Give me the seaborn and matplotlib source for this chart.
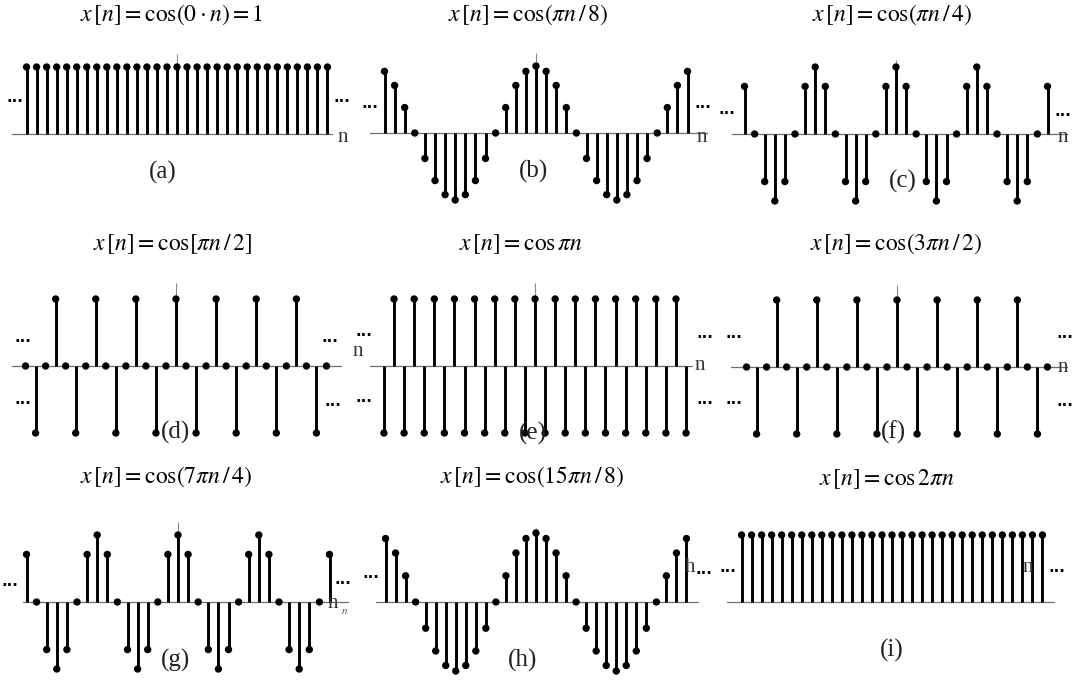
import matplotlib
matplotlib.use("Agg")
import matplotlib.pyplot as plt
import seaborn as sns
import pandas as pd

# ---------------- data ----------------
n_idx = [-15, -14, -13, -12, -11, -10, -9, -8, -7, -6, -5, -4, -3, -2, -1, 0,
         1, 2, 3, 4, 5, 6, 7, 8, 9, 10, 11, 12, 13, 14, 15]

vals_a = [1, 1, 1, 1, 1, 1, 1, 1, 1, 1, 1, 1, 1, 1, 1, 1,
          1, 1, 1, 1, 1, 1, 1, 1, 1, 1, 1, 1, 1, 1, 1]
vals_b = [0.92, 0.71, 0.38, 0, -0.38, -0.71, -0.92, -1, -0.92, -0.71, -0.38, 0, 0.38, 0.71, 0.92, 1,
          0.92, 0.71, 0.38, 0, -0.38, -0.71, -0.92, -1, -0.92, -0.71, -0.38, 0, 0.38, 0.71, 0.92]
vals_c = [0.71, 0, -0.71, -1, -0.71, 0, 0.71, 1, 0.71, 0, -0.71, -1, -0.71, 0, 0.71, 1,
          0.71, 0, -0.71, -1, -0.71, 0, 0.71, 1, 0.71, 0, -0.71, -1, -0.71, 0, 0.71]
vals_d = [0, -1, 0, 1, 0, -1, 0, 1, 0, -1, 0, 1, 0, -1, 0, 1,
          0, -1, 0, 1, 0, -1, 0, 1, 0, -1, 0, 1, 0, -1, 0]
vals_e = [-1, 1, -1, 1, -1, 1, -1, 1, -1, 1, -1, 1, -1, 1, -1, 1,
          -1, 1, -1, 1, -1, 1, -1, 1, -1, 1, -1, 1, -1, 1, -1]
vals_f = [0, -1, 0, 1, 0, -1, 0, 1, 0, -1, 0, 1, 0, -1, 0, 1,
          0, -1, 0, 1, 0, -1, 0, 1, 0, -1, 0, 1, 0, -1, 0]
vals_g = [0.71, 0, -0.71, -1, -0.71, 0, 0.71, 1, 0.71, 0, -0.71, -1, -0.71, 0, 0.71, 1,
          0.71, 0, -0.71, -1, -0.71, 0, 0.71, 1, 0.71, 0, -0.71, -1, -0.71, 0, 0.71]
vals_h = [0.92, 0.71, 0.38, 0, -0.38, -0.71, -0.92, -1, -0.92, -0.71, -0.38, 0, 0.38, 0.71, 0.92, 1,
          0.92, 0.71, 0.38, 0, -0.38, -0.71, -0.92, -1, -0.92, -0.71, -0.38, 0, 0.38, 0.71, 0.92]
vals_i = [1, 1, 1, 1, 1, 1, 1, 1, 1, 1, 1, 1, 1, 1, 1, 1,
          1, 1, 1, 1, 1, 1, 1, 1, 1, 1, 1, 1, 1, 1, 1]

titles = [r'$x\,[n]=\cos(0\cdot n)=1$',
          r'$x\,[n]=\cos(\pi n\,/\,8)$',
          r'$x\,[n]=\cos(\pi n\,/\,4)$',
          r'$x\,[n]=\cos[\pi n\,/\,2]$',
          r'$x\,[n]=\cos\pi n$',
          r'$x\,[n]=\cos(3\pi n\,/\,2)$',
          r'$x\,[n]=\cos(7\pi n\,/\,4)$',
          r'$x\,[n]=\cos(15\pi n\,/\,8)$',
          r'$x\,[n]=\cos2\pi n$']
sublabels = ['(a)', '(b)', '(c)', '(d)', '(e)', '(f)', '(g)', '(h)', '(i)']

# ---------------- style ----------------
sns.set_theme(style="white")
plt.rcParams['font.family'] = ['Liberation Serif', 'DejaVu Serif']
plt.rcParams['mathtext.fontset'] = 'stix'

W, H = 1080, 682
fig = plt.figure(figsize=(W / 100, H / 100), dpi=100)
fig.patch.set_facecolor('white')


def fx(px):
    return px / W


def fy(py):
    return 1 - py / H


layout = [
    dict(v=vals_a, cx=177, base=134, dx=10.03, ay=67, ll=-16.5, lr=15.5, tk=1.2, tp=(172, 15), lp=(163, 172)),
    dict(v=vals_b, cx=536, base=133, dx=10.1, ay=67, ll=-16.4, lr=17.4, tk=1.2, tp=(528, 15), lp=(533, 171)),
    dict(v=vals_c, cx=896, base=134, dx=10.1, ay=67, ll=-16.2, lr=17.4, tk=1.1, tp=(892, 15), lp=(903, 181)),
    dict(v=vals_d, cx=176, base=366, dx=10.03, ay=67, ll=-16.4, lr=16.5, tk=1.24, tp=(173, 244), lp=(175, 432)),
    dict(v=vals_e, cx=535, base=366, dx=10.07, ay=67, ll=-16.4, lr=15.6, tk=1.24, tp=(521, 244), lp=(533, 433)),
    dict(v=vals_f, cx=897, base=367, dx=10.03, ay=67, ll=-16.6, lr=18.0, tk=1.22, tp=(896, 244), lp=(893, 432)),
    dict(v=vals_g, cx=178, base=602, dx=10.1, ay=67, ll=-15.3, lr=16.8, tk=1.19, tp=(166, 477), lp=(175, 660)),
    dict(v=vals_h, cx=536, base=602, dx=10.03, ay=69, ll=-16.0, lr=16.2, tk=1.07, tp=(532, 477), lp=(523, 660)),
    dict(v=vals_i, cx=892, base=602, dx=10.03, ay=67, ll=-16.5, lr=16.2, tk=0, tp=(887, 479), lp=(892, 650)),
]

for k, p in enumerate(layout):
    left_px = p['cx'] - 17 * p['dx']
    width_px = 34 * p['dx']
    top_px = p['base'] - 1.6 * p['ay']
    height_px = 3.2 * p['ay']
    ax = fig.add_axes([left_px / W, 1 - (top_px + height_px) / H, width_px / W, height_px / H])
    ax.plot([p['ll'], p['lr']], [0, 0], color='#6e6e6e', lw=0.9, zorder=1)
    if p['tk']:
        ax.vlines(0, 0, p['tk'], color='#8a8a8a', lw=0.8, zorder=1)
    ax.vlines(n_idx, 0, p['v'], color='black', lw=2.1, zorder=2)
    df = pd.DataFrame({'n': n_idx, 'x': p['v']})
    sns.scatterplot(data=df, x='n', y='x', ax=ax, color='black', s=28,
                    edgecolor='none', zorder=3, legend=False)
    ax.set_xlim(-17, 17)
    ax.set_ylim(-1.6, 1.6)
    ax.axis('off')
    fig.text(fx(p['tp'][0]), fy(p['tp'][1]), titles[k], fontsize=17,
             ha='center', va='center', color='black')
    fig.text(fx(p['lp'][0]), fy(p['lp'][1]), sublabels[k], fontsize=18,
             ha='center', va='center', color='#222222')

# ellipsis dots
dots = [(15, 98), (342, 98), (370, 104), (703, 104), (727, 110), (1063, 112),
        (23, 338), (23, 400), (330, 338), (333, 402), (364, 332), (364, 398),
        (705, 333), (705, 400), (734, 333), (734, 400), (1065, 333), (1065, 402),
        (10, 582), (343, 579), (371, 573), (704, 570), (728, 568), (1057, 568)]
for (x, y) in dots:
    fig.text(fx(x), fy(y), '...', fontsize=11, fontweight='bold',
             family='DejaVu Sans', ha='center', va='center', color='black')

# axis variable labels
nlabels = [(343, 137, 'n'), (702, 137, 'n'), (1063, 137, 'n'),
           (358, 352, 'n'), (700, 366, 'n'), (1063, 367, 'n'),
           (333, 604, 'n'), (690, 568, 'h'), (1028, 567, 'n')]
for (x, y, t) in nlabels:
    fig.text(fx(x), fy(y), t, fontsize=15, ha='center', va='center', color='#333333')
fig.text(fx(345), fy(611), r'$n$', fontsize=8, ha='center', va='center', color='#555555')

fig.savefig('out.png', dpi=100, facecolor='white')
